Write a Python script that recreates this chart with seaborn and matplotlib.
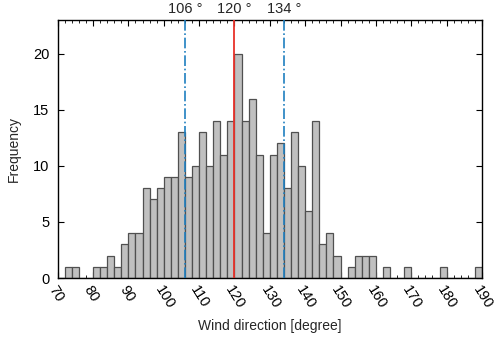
import matplotlib
matplotlib.use("Agg")
import matplotlib.pyplot as plt
from matplotlib.ticker import MultipleLocator
import seaborn as sns
import numpy as np
import pandas as pd

# bin left edges (width 2 degrees) and counts
bin_left = list(range(70, 190, 2))
counts = [0, 1, 1, 0, 0, 1, 1, 2, 1, 3,
          4, 4, 8, 7, 8, 9, 9, 13, 9, 10,
          13, 10, 14, 11, 14, 20, 14, 16, 11, 4,
          11, 12, 8, 13, 10, 6, 14, 3, 4, 2,
          0, 1, 2, 2, 2, 0, 1, 0, 0, 1,
          0, 0, 0, 0, 1, 0, 0, 0, 0, 1]
mean_dir = 120
band_dirs = [106, 134]
top_labels = ["106 °", "120 °", "134 °"]
xticks = list(range(70, 191, 10))
yticks = [0, 5, 10, 15, 20]

sns.set_style("ticks")
plt.rcParams['font.family'] = ['Liberation Sans', 'DejaVu Sans']

df = pd.DataFrame({"dir": [b + 1 for b in bin_left], "n": counts})

fig = plt.figure(figsize=(5.0, 3.38), dpi=100)
ax = fig.add_axes([57.7 / 500, 1 - 278 / 338, (482 - 57.7) / 500, (278 - 20) / 338])
sns.histplot(data=df, x="dir", weights="n", binwidth=2, binrange=(70, 190), ax=ax,
             color="#c0c0c0", edgecolor="#505050", linewidth=0.9, alpha=1.0)

ax.axvline(mean_dir, color="#e8322a", lw=1.3, zorder=5)
for d in band_dirs:
    ax.axvline(d, color="#1f7fc0", lw=1.2, ls="-.", zorder=5)

ax.set_xlim(70, 190)
ax.set_ylim(0, 23)
ax.set_xticks(xticks)
ax.set_yticks(yticks)
ax.xaxis.set_minor_locator(MultipleLocator(2))
ax.tick_params(axis="both", which="both", direction="in", top=True, right=True,
               labelsize=10.5, colors="black")
ax.tick_params(axis="both", which="major", length=4, width=0.8)
ax.tick_params(axis="both", which="minor", length=2, width=0.6)
ax.tick_params(axis="y", pad=6)
ax.tick_params(axis="x", pad=4)
for lab in ax.get_xticklabels():
    lab.set_rotation(-58)
    lab.set_ha("left")
    lab.set_va("top")
    lab.set_rotation_mode("anchor")
for s in ax.spines.values():
    s.set_color("black")
    s.set_linewidth(1.0)

ax.set_xlabel("Wind direction [degree]", fontsize=10, labelpad=5)
ax.set_ylabel("Frequency", fontsize=10, labelpad=9)

for d, t in zip([band_dirs[0], mean_dir, band_dirs[1]], top_labels):
    ax.text(d, 1.015, t, transform=ax.get_xaxis_transform(), ha="center", va="bottom",
            fontsize=10.5)

fig.savefig("out.png", dpi=100)
